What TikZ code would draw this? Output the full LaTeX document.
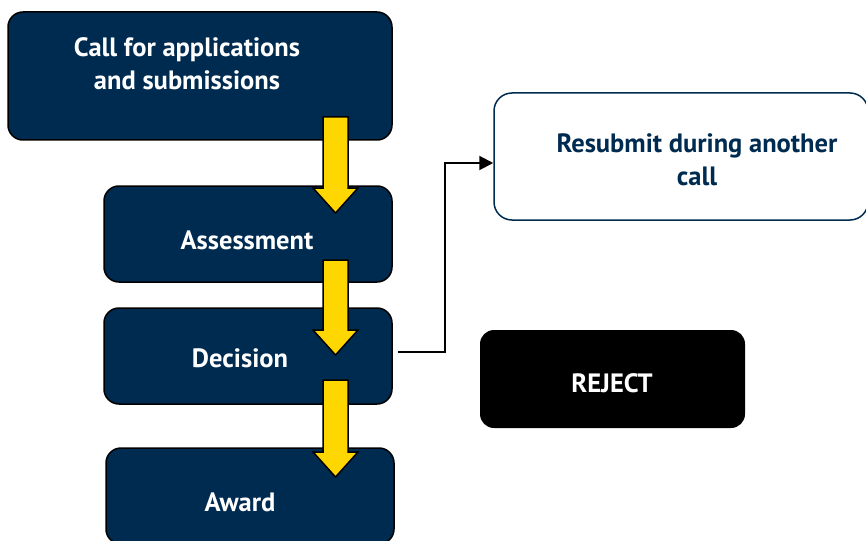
\documentclass[tikz,border=0pt]{standalone}
\usepackage{fontspec}
\setmainfont{PT Sans}
\usetikzlibrary{arrows.meta}
\definecolor{navy}{HTML}{002B50}
\definecolor{gold}{HTML}{FFD700}

\begin{document}
\begin{tikzpicture}[x=1pt, y=-1pt,
  navybox/.style={draw=black, line width=1.5pt, fill=navy, rounded corners=15pt, inner sep=0pt},
  boxtext/.style={text=white, font=\bfseries\fontsize{26.5}{33}\selectfont, align=center},
  flowarrow/.style={draw=black, line width=1.5pt, fill=gold, line join=miter},
  conn/.style={line width=2pt, -{Triangle[length=14pt,width=14pt]}}]
\useasboundingbox (0,0) rectangle (866,540);

\node[navybox, minimum width=384pt, minimum height=128pt] (call) at (200,76) {};
\node[navybox, minimum width=288pt, minimum height=96pt] (assess) at (248,234) {};
\node[navybox, minimum width=288pt, minimum height=96pt] (decision) at (248,356) {};
\node[navybox, minimum width=288pt, minimum height=96pt] (award) at (250,496) {};
\node[draw=navy, line width=1.5pt, fill=white, rounded corners=18pt, minimum width=374pt, minimum height=127pt] (resubmit) at (681,156.5) {};
\node[fill=black, rounded corners=14pt, minimum width=265pt, minimum height=98pt] (reject) at (612.5,379) {};

\node[boxtext] (calltext) at (187,64) {Call for applications\\and submissions};
\node[boxtext] (assesstext) at (247,240) {Assessment};
\node[boxtext] (decisiontext) at (240,358) {Decision};
\node[boxtext] (awardtext) at (240,502) {Award};
\node[boxtext, text=navy] (resubmittext) at (697,160) {Resubmit during another\\call};
\node[boxtext] (rejecttext) at (612,383) {REJECT};

\foreach \top/\tip in {117/213, 260/355, 380/477}
  \filldraw[flowarrow] (323,\top) -- (348,\top) -- (348,\tip-25) -- (358,\tip-25)
    -- (335.5,\tip) -- (313,\tip-25) -- (323,\tip-25) -- cycle;

\coordinate (bend) at (445,163);
\draw[conn] ([xshift=5pt,yshift=4pt]decision.east) -| (bend) -- ([yshift=-6.5pt]resubmit.west);
\end{tikzpicture}
\end{document}
